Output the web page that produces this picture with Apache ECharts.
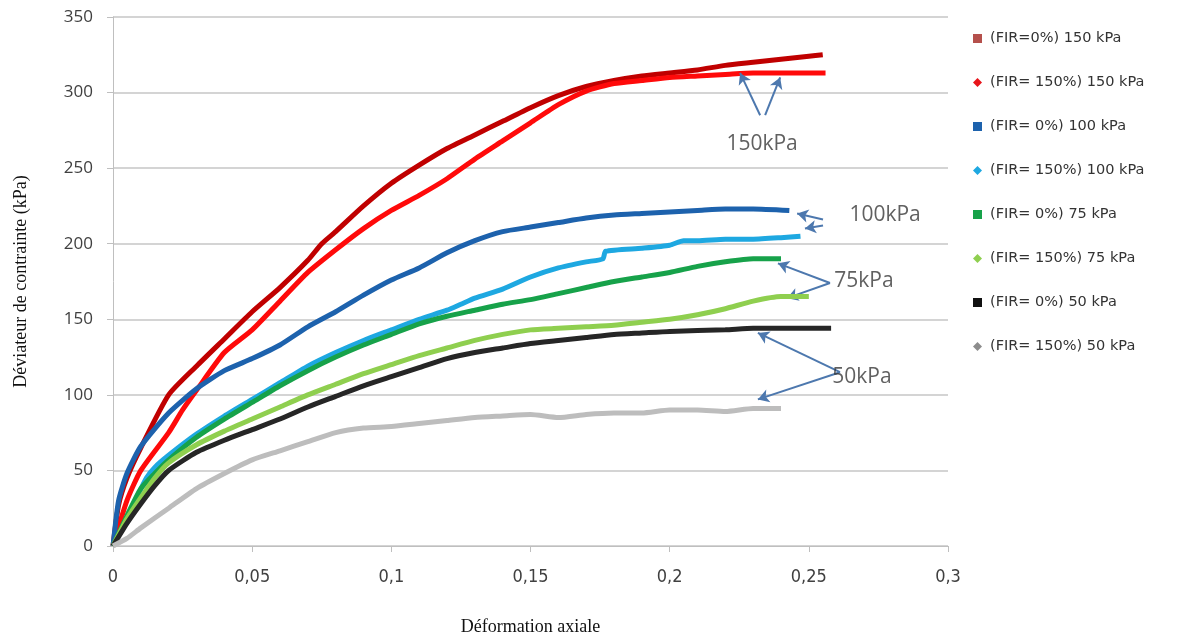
<!DOCTYPE html>
<html>
<head>
<meta charset="utf-8">
<script src="https://cdn.jsdelivr.net/npm/echarts@6/dist/echarts.min.js"></script>
<style>
html,body{margin:0;padding:0;background:#fff;}
#chart{width:1184px;height:641px;}
</style>
</head>
<body>
<div id="chart"></div>
<script>
// ---- data (strain, deviator stress kPa) ----
const names = [
  '(FIR=0%) 150 kPa', '(FIR= 150%) 150 kPa',
  '(FIR= 0%) 100 kPa', '(FIR= 150%) 100 kPa',
  '(FIR= 0%) 75 kPa', '(FIR= 150%) 75 kPa',
  '(FIR= 0%) 50 kPa', '(FIR= 150%) 50 kPa'
];
const fir0_150 = [[0,0],[0.002,27],[0.005,45],[0.01,65],[0.02,100],[0.03,119],[0.04,137],[0.05,155],[0.06,171],[0.07,189],[0.075,200],[0.08,208],[0.09,225],[0.10,240],[0.11,252],[0.12,263],[0.13,272],[0.14,281],[0.15,290],[0.16,298],[0.17,304],[0.18,308],[0.19,311],[0.20,313],[0.21,315],[0.22,318],[0.23,320],[0.24,322],[0.25,324],[0.255,325]];
const fir150_150 = [[0,0],[0.005,30],[0.01,50],[0.02,75],[0.025,90],[0.03,103],[0.04,128],[0.05,143],[0.06,162],[0.07,181],[0.08,196],[0.09,210],[0.10,222],[0.11,232],[0.12,243],[0.13,256],[0.14,268],[0.15,280],[0.16,292],[0.17,301],[0.18,306],[0.19,308],[0.20,310],[0.21,311],[0.22,312],[0.23,313],[0.24,313],[0.256,313]];
const fir0_100 = [[0,0],[0.002,30],[0.005,48],[0.01,66],[0.02,88],[0.03,104],[0.04,116],[0.05,124],[0.06,133],[0.07,145],[0.08,155],[0.09,166],[0.10,176],[0.11,184],[0.12,194],[0.13,202],[0.14,208],[0.15,211],[0.16,214],[0.17,217],[0.18,219],[0.19,220],[0.20,221],[0.21,222],[0.22,223],[0.23,223],[0.243,222]];
const fir150_100 = [[0,0],[0.004,15],[0.008,30],[0.012,45],[0.015,52],[0.02,60],[0.03,74],[0.04,86],[0.05,97],[0.06,108],[0.07,119],[0.08,128],[0.09,136],[0.10,143],[0.11,150],[0.12,156],[0.125,160],[0.13,164],[0.14,170],[0.15,178],[0.16,184],[0.17,188],[0.176,190],[0.177,195],[0.19,197],[0.20,199],[0.205,202],[0.21,202],[0.22,203],[0.23,203],[0.24,204],[0.247,205]];
const fir0_75 = [[0,0],[0.005,20],[0.01,38],[0.015,48],[0.02,57],[0.03,72],[0.04,84],[0.05,95],[0.06,106],[0.07,116],[0.08,125],[0.09,133],[0.10,140],[0.11,147],[0.12,152],[0.13,156],[0.14,160],[0.15,163],[0.16,167],[0.17,171],[0.18,175],[0.19,178],[0.20,181],[0.21,185],[0.22,188],[0.23,190],[0.24,190]];
const fir150_75 = [[0,0],[0.005,18],[0.01,32],[0.015,45],[0.02,55],[0.03,67],[0.04,76],[0.05,84],[0.06,92],[0.07,100],[0.08,107],[0.09,114],[0.10,120],[0.11,126],[0.12,131],[0.13,136],[0.14,140],[0.15,143],[0.16,144],[0.17,145],[0.18,146],[0.19,148],[0.20,150],[0.21,153],[0.22,157],[0.23,162],[0.24,165],[0.25,165]];
const fir0_50 = [[0,0],[0.005,15],[0.01,28],[0.015,40],[0.02,50],[0.03,62],[0.04,70],[0.05,77],[0.06,84],[0.07,92],[0.08,99],[0.09,106],[0.10,112],[0.11,118],[0.12,124],[0.13,128],[0.14,131],[0.15,134],[0.16,136],[0.17,138],[0.18,140],[0.19,141],[0.20,142],[0.22,143],[0.23,144],[0.258,144]];
const fir150_50 = [[0,0],[0.005,5],[0.01,12],[0.02,25],[0.03,38],[0.04,48],[0.05,57],[0.06,63],[0.07,69],[0.08,75],[0.09,78],[0.10,79],[0.11,81],[0.12,83],[0.13,85],[0.14,86],[0.15,87],[0.16,85],[0.17,87],[0.18,88],[0.19,88],[0.20,90],[0.21,90],[0.22,89],[0.23,91],[0.24,91]];
const seriesData = [fir0_150, fir150_150, fir0_100, fir150_100, fir0_75, fir150_75, fir0_50, fir150_50];

// annotation texts and arrows (data coordinates)
const annoLabels = [['150kPa',0.2332,266],['100kPa',0.2774,219],['75kPa',0.2698,175],['50kPa',0.2691,112]];
const annoArrows = [
  [[0.2325,285],[0.2253,313]], [[0.2343,285],[0.2397,310]],
  [[0.2551,216],[0.2458,220]], [[0.2551,212],[0.2486,210]],
  [[0.2576,174],[0.2389,187]], [[0.2576,174],[0.2422,164]],
  [[0.2612,115],[0.2317,141]], [[0.2612,115],[0.2317,97]]
];

// ---- styles ----
const lineColors = ['#c00000','#ff0a0a','#1d62ad','#1ea8e1','#17a24a','#8fcf4f','#262626','#bdbdbd'];
const iconColors = ['#b5504c','#e8151b','#1d62ad','#1ea8e1','#17a24a','#8fcf4f','#111111','#8c8c8c'];
const icons = ['rect','diamond','rect','diamond','rect','diamond','rect','diamond'];

const chart = echarts.init(document.getElementById('chart'), null, {renderer:'canvas'});

const series = seriesData.map((d,i)=>({
  name: names[i],
  type: 'line',
  data: d,
  showSymbol: false,
  symbol: icons[i],
  smooth: 0.2,
  lineStyle: {color: lineColors[i], width: 5},
  itemStyle: {color: iconColors[i]},
  z: 2 + i
}));

series.push({
  name: 'annotations',
  type: 'scatter',
  data: annoLabels.map(a=>({value:[a[1],a[2]], name:a[0]})),
  symbolSize: 0,
  z: 20,
  label: {
    show: true, position: 'inside',
    formatter: p => p.name,
    fontFamily: 'Open Sans', fontSize: 21, color: '#383838'
  },
  markLine: {
    silent: true,
    symbol: ['none','arrow'],
    symbolSize: [10, 11],
    label: {show:false},
    lineStyle: {color:'#4d78ae', width: 2, type:'solid'},
    data: annoArrows.map(a=>[{coord:a[0]},{coord:a[1]}])
  }
});

chart.setOption({
  animation: false,
  backgroundColor: '#ffffff',
  grid: {left: 113, right: 236, top: 17, bottom: 95},
  legend: {
    orient: 'vertical',
    left: 968, top: 26,
    itemWidth: 9, itemHeight: 9,
    itemGap: 29,
    textStyle: {fontFamily: 'DejaVu Sans', fontSize: 14.5, color: '#333333', padding:[0,0,0,3]},
    data: names.map((n,i)=>({name:n, icon: icons[i]})),
    selectedMode: false
  },
  xAxis: {
    type: 'value', min: 0, max: 0.3, interval: 0.05,
    name: 'Déformation axiale', nameLocation: 'middle', nameGap: 72,
    nameTextStyle: {fontFamily: 'Liberation Serif', fontSize: 18, color: '#111'},
    axisLine: {show: true, lineStyle: {color: '#bfbfbf', width: 1}},
    axisTick: {show: true, length: 6, lineStyle: {color: '#bfbfbf'}},
    splitLine: {show: false},
    axisLabel: {
      margin: 22,
      fontFamily: "'DejaVu Sans Condensed', 'Liberation Sans Narrow', 'Liberation Sans', sans-serif",
      fontSize: 18, color: '#404040',
      formatter: v => String(+v.toFixed(2)).replace('.', ',')
    }
  },
  yAxis: {
    type: 'value', min: 0, max: 350, interval: 50,
    name: 'Déviateur de contrainte (kPa)', nameLocation: 'middle', nameGap: 83,
    nameTextStyle: {fontFamily: 'Liberation Serif', fontSize: 18, color: '#111'},
    axisLine: {show: true, lineStyle: {color: '#bfbfbf', width: 1}},
    axisTick: {show: true, length: 6, lineStyle: {color: '#bfbfbf'}},
    splitLine: {show: true, lineStyle: {color: '#c6c6c6', width: 1.5}},
    axisLabel: {margin: 20, fontFamily: 'Open Sans', fontSize: 17, color: '#404040'}
  },
  series: series
});
</script>
</body>
</html>
